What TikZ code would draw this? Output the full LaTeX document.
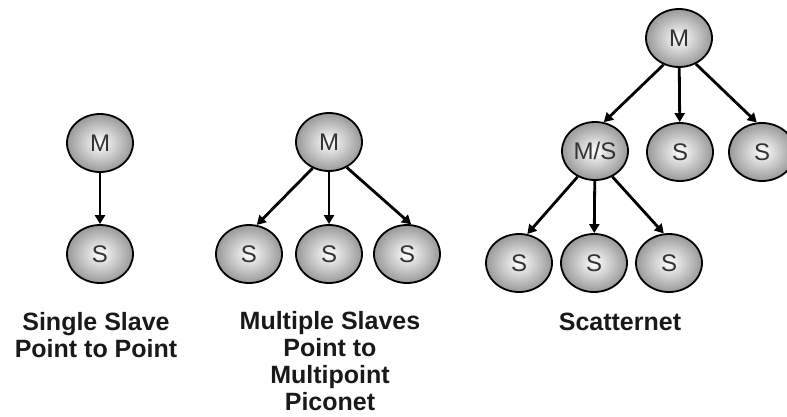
\documentclass[tikz,border=0pt]{standalone}
\usepackage{fontspec}
\setmainfont{Liberation Sans}
\usetikzlibrary{arrows.meta,shapes.geometric}
\begin{document}
\begin{tikzpicture}[x=1pt,y=-1pt,
  dev/.style={ellipse, draw=black, line width=1.8pt, minimum width=66pt,
    minimum height=58pt, inner sep=0pt, shading=radial, inner color=white,
    outer color=gray!80, text=black!80, font=\fontsize{24}{24}\selectfont},
  link/.style={line width=2.8pt, -{Triangle[length=9pt,width=10pt]}},
  caption/.style={align=center, anchor=base, text=black!90, inner sep=1pt,
    font=\bfseries\fontsize{25}{27}\selectfont}]
  \useasboundingbox (0,0) rectangle (787,416);
  \clip (0,0) rectangle (787,416);

  % single slave, point to point
  \node[dev] (m1) at (100,143) {M};
  \node[dev] (s1) at (100,254) {S};
  \draw[link] (m1) -- (s1);
  % captions are placed by the baseline of their last line
  \node[caption] (c1) at (96,357) {Single Slave\\Point to Point};

  % piconet with several slaves
  \node[dev] (m2) at (329,142) {M};
  \node[dev] (s21) at (249,254) {S};
  \node[dev] (s22) at (329,254) {S};
  \node[dev] (s23) at (407,254) {S};
  \draw[link] (m2.238) -- (s21.75);
  \draw[link] (m2) -- (s22);
  \draw[link] (m2.305) -- (s23.82);
  \node[caption] (c2) at (330,410) {Multiple Slaves\\Point to\\Multipoint\\Piconet};

  % scatternet
  \node[dev] (m3) at (679,38) {M};
  \node[dev] (ms) at (595,151) {M/S};
  \node[dev] (t2) at (680,152) {S};
  \node[dev] (t3) at (762,152) {S};
  \node[dev] (l1) at (519,263) {S};
  \node[dev] (l2) at (594,263) {S};
  \node[dev] (l3) at (669,263) {S};
  \draw[link] (m3.240) -- (ms.73);
  \draw[link] (m3) -- (t2);
  \draw[link] (m3.303) -- (t3.100);
  \draw[link] (ms.236) -- (l1.74);
  \draw[link] (ms) -- (l2);
  \draw[link] (ms.304) -- (l3.100);
  \node[caption] (c3) at (620,330) {Scatternet};
\end{tikzpicture}
\end{document}
